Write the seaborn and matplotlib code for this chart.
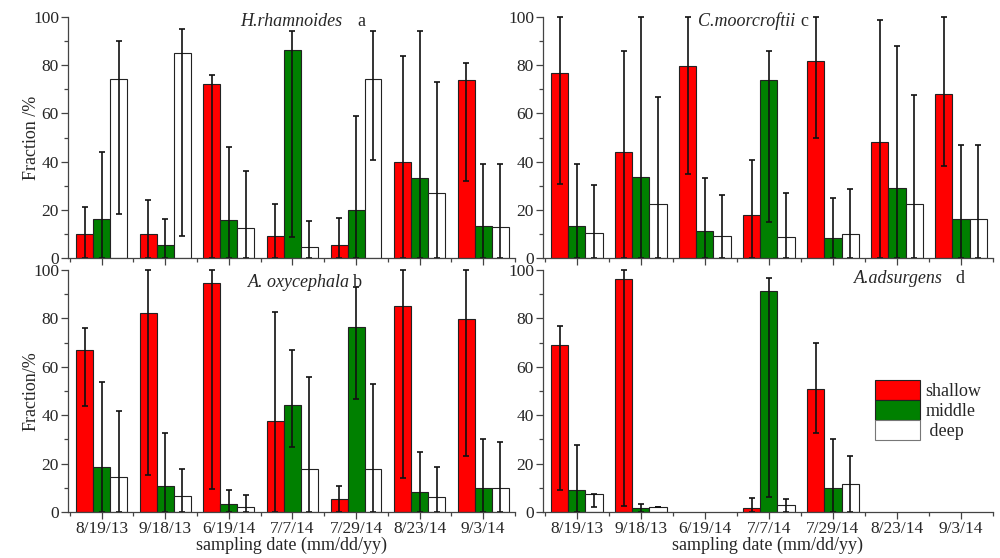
import matplotlib
matplotlib.use("Agg")
import matplotlib.pyplot as plt
from matplotlib.colors import to_rgba
from matplotlib.ticker import MultipleLocator
import numpy as np
import pandas as pd
import seaborn as sns

dates = ["8/19/13", "9/18/13", "6/19/14", "7/7/14", "7/29/14", "8/23/14", "9/3/14"]
layers = ["shallow", "middle", "deep"]
colors = ["#ff0000", "#008000", "#ffffff"]

# panel a  H.rhamnoides
a_shallow = [10, 9.8, 72.1, 9.2, 5.5, 39.7, 73.9]
a_middle = [16.1, 5.2, 15.7, 86.5, 20.1, 33.2, 13.2]
a_deep = [74.2, 85.2, 12.4, 4.6, 74.3, 27, 13]
a_shallow_lo = [0, 0, 0, 0, 0, 0, 31.9]
a_shallow_hi = [21, 24, 76, 22.3, 16.4, 84, 81]
a_middle_lo = [0, 0, 0, 8.6, 0, 0, 0]
a_middle_hi = [44, 16, 46, 94, 59, 94, 39]
a_deep_lo = [18.3, 9.2, 0, 0, 40.7, 0, 0]
a_deep_hi = [90, 95, 36, 15.2, 94, 73, 39]

# panel b  A. oxycephala
b_shallow = [66.9, 82.4, 94.6, 37.8, 5.4, 85.3, 79.9]
b_middle = [18.5, 10.8, 3.2, 44.3, 76.6, 8.2, 10.1]
b_deep = [14.5, 6.6, 2.1, 17.8, 17.8, 6.2, 9.8]
b_shallow_lo = [43.8, 15.2, 9.5, 0, 0, 14.2, 23.1]
b_shallow_hi = [75.9, 100, 100, 82.8, 10.9, 100, 100]
b_middle_lo = [0, 0, 0, 27, 46.7, 0, 0]
b_middle_hi = [53.8, 32.8, 9, 66.9, 92.8, 24.9, 30]
b_deep_lo = [0, 0, 0, 0, 0, 0, 0]
b_deep_hi = [41.9, 17.8, 6.9, 55.9, 52.8, 18.8, 28.9]

# panel c  C.moorcroftii
c_shallow = [76.7, 44, 79.6, 17.8, 81.8, 48.3, 67.9]
c_middle = [13.2, 33.7, 11.3, 73.8, 8.3, 29.2, 16.3]
c_deep = [10.3, 22.5, 9.1, 8.7, 9.8, 22.6, 16.1]
c_shallow_lo = [30.9, 0, 34.9, 0, 49.9, 0, 38.2]
c_shallow_hi = [100, 85.7, 100, 40.8, 100, 98.8, 100]
c_middle_lo = [0, 0, 0, 14.9, 0, 0, 0]
c_middle_hi = [38.9, 100, 33, 85.7, 25, 87.9, 46.9]
c_deep_lo = [0, 0, 0, 0, 0, 0, 0]
c_deep_hi = [30.1, 66.9, 26.1, 27, 28.8, 67.7, 46.9]

# panel d  A.adsurgens (no samples on some dates)
d_shallow = [69.2, 96.3, np.nan, 1.7, 50.9, np.nan, np.nan]
d_middle = [9.3, 1.7, np.nan, 91.3, 9.8, np.nan, np.nan]
d_deep = [7.5, 1.9, np.nan, 2.8, 11.5, np.nan, np.nan]
d_shallow_lo = [9.3, 2.4, np.nan, 0, 32.8, np.nan, np.nan]
d_shallow_hi = [76.8, 100, np.nan, 5.9, 69.8, np.nan, np.nan]
d_middle_lo = [0, 0, np.nan, 6.2, 0, np.nan, np.nan]
d_middle_hi = [27.9, 3.5, np.nan, 96.9, 30, np.nan, np.nan]
d_deep_lo = [1.9, 1.9, np.nan, 0, 0, np.nan, np.nan]
d_deep_hi = [1.9, 1.9, np.nan, 5.4, 23.1, np.nan, np.nan]


def make_frame(vals, los, his):
    rows = []
    for layer, v, lo, hi in zip(layers, vals, los, his):
        for d, vi, loi, hii in zip(dates, v, lo, hi):
            rows.append({"date": d, "layer": layer, "value": vi, "lo": loi, "hi": hii})
    return pd.DataFrame(rows)


def draw_panel(ax, df, species, letter, title_pos, gap, legend=False):
    sns.barplot(data=df, x="date", y="value", hue="layer", order=dates,
                hue_order=layers, palette=colors, errorbar=None, width=0.8,
                edgecolor="#222222", linewidth=0.8, saturation=1,
                legend=legend, ax=ax)
    # asymmetric error bars on bar centers, bar matched by its fill colour
    rgba = [to_rgba(c) for c in colors]
    for bar in ax.patches:
        fc = tuple(bar.get_facecolor())
        idx = [i for i, c in enumerate(rgba) if np.allclose(c, fc)]
        if not idx or bar.get_height() == 0:
            continue
        layer = layers[idx[0]]
        xc = bar.get_x() + bar.get_width() / 2
        k = int(round(xc))
        if k < 0 or k >= len(dates):
            continue
        row = df[(df["layer"] == layer) & (df["date"] == dates[k])].iloc[0]
        v, lo, hi = row["value"], row["lo"], row["hi"]
        if np.isnan(v):
            continue
        ax.errorbar(xc, v, yerr=[[max(v - lo, 0)], [max(hi - v, 0)]], fmt="none",
                    ecolor="#111111", elinewidth=1.2, capsize=2.4,
                    capthick=1.2, clip_on=False)
    ax.set_xlim(-0.53, 6.5)
    ax.set_ylim(0, 100)
    ax.yaxis.set_major_locator(MultipleLocator(20))
    ax.yaxis.set_minor_locator(MultipleLocator(10))
    ax.xaxis.set_minor_locator(MultipleLocator(1, offset=0.5))
    for side in ["top", "right"]:
        ax.spines[side].set_visible(False)
    for side in ["left", "bottom"]:
        ax.spines[side].set_color("#444444")
        ax.spines[side].set_linewidth(0.9)
    ax.tick_params(which="major", direction="out", length=5, width=0.9,
                   color="#444444", labelsize=12.5, pad=1.5)
    ax.tick_params(which="minor", direction="out", length=3, width=0.9,
                   color="#444444")
    ax.set_xlabel("")
    ax.set_ylabel("")
    tx, ty = title_pos
    t = ax.text(tx, ty, species, transform=ax.transAxes, fontsize=13,
                style="italic", va="center", ha="left")
    ax.annotate(letter, xycoords=t, xy=(1, 0.5), xytext=(gap, 0),
                textcoords="offset points", va="center", ha="left", fontsize=13)


sns.set_theme(style="ticks")
plt.rcParams["font.family"] = ["Liberation Serif", "DejaVu Serif"]

fig = plt.figure(figsize=(10, 5.58), dpi=100)
ax_a = fig.add_axes([0.068, 0.5376, 0.447, 0.4319])
ax_b = fig.add_axes([0.068, 0.0824, 0.447, 0.4337])
ax_c = fig.add_axes([0.543, 0.5376, 0.45, 0.4319])
ax_d = fig.add_axes([0.543, 0.0824, 0.45, 0.4337])

draw_panel(ax_a, make_frame([a_shallow, a_middle, a_deep],
                            [a_shallow_lo, a_middle_lo, a_deep_lo],
                            [a_shallow_hi, a_middle_hi, a_deep_hi]),
           "H.rhamnoides", "a", (0.385, 0.983), 11)
draw_panel(ax_b, make_frame([b_shallow, b_middle, b_deep],
                            [b_shallow_lo, b_middle_lo, b_deep_lo],
                            [b_shallow_hi, b_middle_hi, b_deep_hi]),
           "A. oxycephala", "b", (0.402, 0.95), 2)
draw_panel(ax_c, make_frame([c_shallow, c_middle, c_deep],
                            [c_shallow_lo, c_middle_lo, c_deep_lo],
                            [c_shallow_hi, c_middle_hi, c_deep_hi]),
           "C.moorcroftii", "c", (0.344, 0.983), 4)
draw_panel(ax_d, make_frame([d_shallow, d_middle, d_deep],
                            [d_shallow_lo, d_middle_lo, d_deep_lo],
                            [d_shallow_hi, d_middle_hi, d_deep_hi]),
           "A.adsurgens", "d", (0.69, 0.963), 9, legend=True)

for ax in (ax_a, ax_c):
    ax.tick_params(axis="x", labelbottom=False)
for ax in (ax_b, ax_d):
    ax.set_xlabel("sampling date (mm/dd/yy)", fontsize=13, labelpad=0)
ax_a.set_ylabel("Fraction /%", fontsize=13, labelpad=-5)
ax_b.set_ylabel("Fraction/%", fontsize=13, labelpad=-5)

leg = ax_d.legend(loc="upper left", bbox_to_anchor=(0.737, 0.545), frameon=False,
                  fontsize=13, handlelength=2.5, handleheight=1.3,
                  labelspacing=0.0, handletextpad=0.3, borderaxespad=0,
                  borderpad=0)
leg.get_texts()[2].set_text(" deep")
leg.legend_handles[2].set_edgecolor("#777777")

fig.savefig("out.png", dpi=100)
